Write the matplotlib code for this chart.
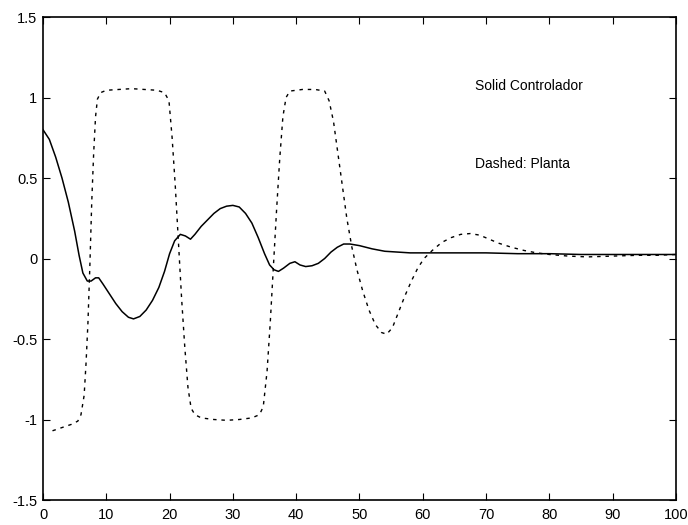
import matplotlib
matplotlib.use("Agg")
import matplotlib.pyplot as plt

# Controller signal (solid)
t_ctrl = [0, 1, 2, 3, 4, 5, 5.7, 6.3, 7.0, 7.6, 8.3, 8.8, 9.5, 10.5, 11.5, 12.5,
          13.5, 14.3, 15.3, 16.3, 17.3, 18.3, 19.2, 20.0, 20.8, 21.7, 22.5, 23.3,
          24, 25, 26, 27, 28, 29, 30, 31, 32, 33, 34, 35, 35.8, 36.5, 37.2, 38,
          39, 39.8, 40.6, 41.5, 42.5, 43.5, 44.5, 45.5, 46.5, 47.5, 48.5, 50, 52,
          54, 56, 58, 60, 65, 70, 75, 80, 85, 90, 95, 100]
u_ctrl = [0.80, 0.74, 0.63, 0.50, 0.35, 0.17, 0.02, -0.09, -0.14, -0.14, -0.12,
          -0.12, -0.16, -0.22, -0.28, -0.33, -0.365, -0.375, -0.36, -0.32, -0.26,
          -0.18, -0.08, 0.03, 0.11, 0.15, 0.14, 0.12, 0.15, 0.20, 0.24, 0.28, 0.31,
          0.325, 0.33, 0.32, 0.28, 0.22, 0.13, 0.03, -0.04, -0.07, -0.08, -0.06,
          -0.03, -0.02, -0.04, -0.05, -0.045, -0.03, 0.0, 0.04, 0.07, 0.09, 0.09,
          0.08, 0.06, 0.045, 0.04, 0.035, 0.035, 0.035, 0.035, 0.03, 0.03, 0.025,
          0.025, 0.025, 0.025]

# Plant output (dashed)
t_plant = [1.5, 3, 4.5, 5.5, 6.0, 6.5, 6.8, 7.1, 7.4, 7.7, 8.0, 8.3, 8.6, 9.1, 10,
           12, 14, 16, 18, 19.2, 19.9, 20.4, 20.9, 21.4, 21.9, 22.4, 22.9, 23.4,
           24.0, 25, 27, 29, 31, 33, 34.2, 34.8, 35.4, 35.9, 36.4, 36.9, 37.4,
           37.9, 38.4, 39, 41, 43, 44.5, 45.2, 45.9, 46.6, 47.3, 48.0, 48.8, 49.6,
           50.5, 51.5, 52.5, 53.5, 54.3, 55.2, 56.2, 57.2, 58.2, 59.2, 60.2, 61.5,
           63, 64.5, 66, 67.5, 69, 70.5, 72, 74, 76, 78, 80, 83, 86, 90, 94, 97, 100]
y_plant = [-1.07, -1.05, -1.03, -1.01, -0.97, -0.85, -0.65, -0.40, -0.05, 0.35,
           0.65, 0.88, 0.99, 1.03, 1.045, 1.05, 1.055, 1.05, 1.045, 1.03, 0.98,
           0.75, 0.45, 0.10, -0.25, -0.55, -0.80, -0.93, -0.97, -0.99, -1.0,
           -1.005, -1.0, -0.99, -0.97, -0.92, -0.70, -0.40, -0.05, 0.30, 0.62,
           0.88, 1.00, 1.04, 1.05, 1.05, 1.04, 0.98, 0.85, 0.65, 0.45, 0.25, 0.07,
           -0.07, -0.20, -0.32, -0.41, -0.46, -0.47, -0.43, -0.33, -0.23, -0.14,
           -0.06, 0.0, 0.05, 0.10, 0.13, 0.15, 0.155, 0.145, 0.12, 0.095, 0.07,
           0.05, 0.035, 0.025, 0.015, 0.01, 0.015, 0.02, 0.02, 0.025]

x_ticks = [0, 10, 20, 30, 40, 50, 60, 70, 80, 90, 100]
y_ticks = [-1.5, -1, -0.5, 0, 0.5, 1, 1.5]
y_tick_labels = ["-1.5", "-1", "-0.5", "0", "0.5", "1", "1.5"]

plt.rcParams["font.family"] = ["Liberation Sans", "DejaVu Sans"]

fig = plt.figure(figsize=(6.88, 5.25), dpi=100)
ax = fig.add_axes([0.0625, 0.0476, 0.920, 0.92])

ax.plot(t_ctrl, u_ctrl, color="black", lw=1.1, linestyle="-")
ax.plot(t_plant, y_plant, color="black", lw=1.0, linestyle=(0, (2.5, 3.5)))

ax.text(68.3, 1.07, "Solid Controlador", fontsize=10, va="center", ha="left")
ax.text(68.3, 0.585, "Dashed: Planta", fontsize=10, va="center", ha="left")

ax.set_xlim(0, 100)
ax.set_ylim(-1.5, 1.5)
ax.set_xticks(x_ticks)
ax.set_yticks(y_ticks)
ax.set_yticklabels(y_tick_labels)
ax.tick_params(direction="in", length=5, width=0.8, top=True, right=True,
               labelsize=10.5, pad=4)
ax.tick_params(axis="x", pad=6)
for s in ax.spines.values():
    s.set_linewidth(1.2)

fig.savefig("out.png", dpi=100)
